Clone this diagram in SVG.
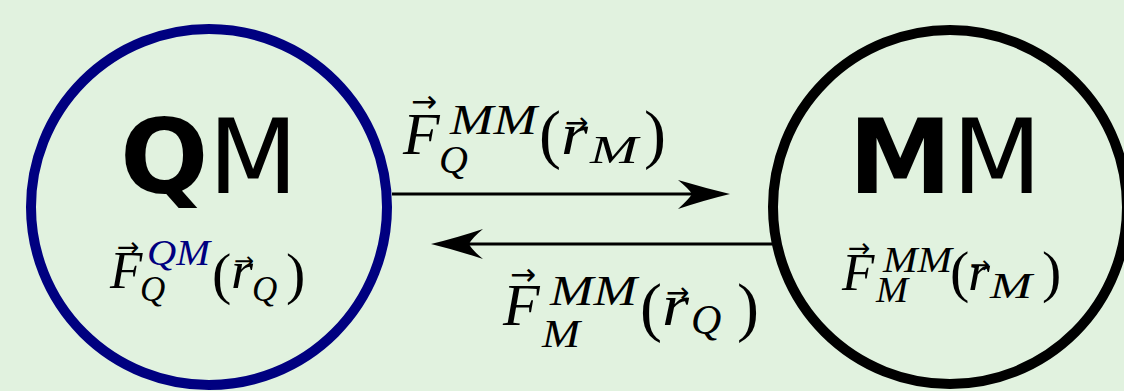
<svg xmlns="http://www.w3.org/2000/svg" width="1124" height="391" viewBox="0 0 1124 391">
<style>
.bg{fill:#e1f2df}
.node{fill:none;stroke-width:10}
.big{font-family:"DejaVu Sans",sans-serif;font-size:104px;fill:#000}
.b{font-weight:bold}
.mi{font-family:"Liberation Serif","DejaVu Serif",serif;font-style:italic;fill:#000}
.up{font-family:"Liberation Serif","DejaVu Serif",serif;fill:#000}
.vec{font-family:"DejaVu Sans",sans-serif;fill:#000}
.conn{stroke:#000;stroke-width:3;fill:none}
.head{fill:#000;stroke:none}
</style>
<rect class="bg" x="0" y="0" width="1124" height="391"/>
<g id="connectors">
<line class="conn" x1="392" y1="194" x2="700" y2="194"/>
<path class="head" d="M730,194 Q705,188 678,180 Q689,189 692,194 Q689,199 678,209 Q705,200 730,194 Z"/>
<line class="conn" x1="772" y1="244" x2="460" y2="244"/>
<path class="head" d="M431,244 Q456,238 483,229 Q472,238 469,244 Q472,250 483,259 Q456,250 431,244 Z"/>
</g>
<g id="qm">
<circle class="node" cx="209" cy="207" r="178" stroke="#000080"/>
<text class="big" x="209" y="193" text-anchor="middle"><tspan class="b">Q</tspan>M</text>
<g font-size="53">
<text class="mi" x="110" y="288">F</text>
<text class="vec" x="117" y="256" font-size="27">→</text>
<text class="mi" x="140" y="301" font-size="35">Q</text>
<text class="mi" x="147" y="265" font-size="36" textLength="63" lengthAdjust="spacingAndGlyphs" style="fill:#000080">QM</text>
<text class="up" x="212" y="293" font-size="58">(</text>
<text class="mi" x="231" y="288" textLength="22" lengthAdjust="spacingAndGlyphs">r</text>
<text class="vec" x="234" y="269" font-size="24">→</text>
<text class="mi" x="252" y="301" font-size="35">Q</text>
<text class="up" x="286" y="293" font-size="58">)</text>
</g>
</g>
<g id="mm">
<circle class="node" cx="950" cy="207" r="177" stroke="#000"/>
<text class="big" x="945" y="193" text-anchor="middle"><tspan class="b">M</tspan>M</text>
<g font-size="53">
<text class="mi" x="842" y="290">F</text>
<text class="vec" x="848" y="257" font-size="27">→</text>
<text class="mi" x="876" y="302" font-size="35" textLength="32" lengthAdjust="spacingAndGlyphs">M</text>
<text class="mi" x="883" y="272" font-size="36" textLength="69" lengthAdjust="spacingAndGlyphs">MM</text>
<text class="up" x="950" y="291" font-size="58">(</text>
<text class="mi" x="968" y="290" textLength="22" lengthAdjust="spacingAndGlyphs">r</text>
<text class="vec" x="970" y="273" font-size="24">→</text>
<text class="mi" x="990" y="298" font-size="35" textLength="42" lengthAdjust="spacingAndGlyphs">M</text>
<text class="up" x="1042" y="291" font-size="58">)</text>
</g>
</g>
<g id="label-top" font-size="60">
<text class="mi" x="403" y="154">F</text>
<text class="vec" x="411" y="112" font-size="31">→</text>
<text class="mi" x="439" y="173" font-size="40">Q</text>
<text class="mi" x="450" y="134" font-size="42" textLength="87" lengthAdjust="spacingAndGlyphs">MM</text>
<text class="up" x="539" y="156" font-size="66">(</text>
<text class="mi" x="561" y="154" textLength="27" lengthAdjust="spacingAndGlyphs">r</text>
<text class="vec" x="565" y="132" font-size="28">→</text>
<text class="mi" x="590" y="163" font-size="40" textLength="48" lengthAdjust="spacingAndGlyphs">M</text>
<text class="up" x="644" y="156" font-size="66">)</text>
</g>
<g id="label-bottom" font-size="60">
<text class="mi" x="503" y="325">F</text>
<text class="vec" x="510" y="285" font-size="31">→</text>
<text class="mi" x="542" y="347" font-size="40" textLength="38" lengthAdjust="spacingAndGlyphs">M</text>
<text class="mi" x="550" y="305" font-size="42" textLength="87" lengthAdjust="spacingAndGlyphs">MM</text>
<text class="up" x="640" y="329" font-size="66">(</text>
<text class="mi" x="662" y="325" textLength="27" lengthAdjust="spacingAndGlyphs">r</text>
<text class="vec" x="666" y="302" font-size="28">→</text>
<text class="mi" x="691" y="334" font-size="42">Q</text>
<text class="up" x="737" y="329" font-size="66">)</text>
</g>
</svg>
